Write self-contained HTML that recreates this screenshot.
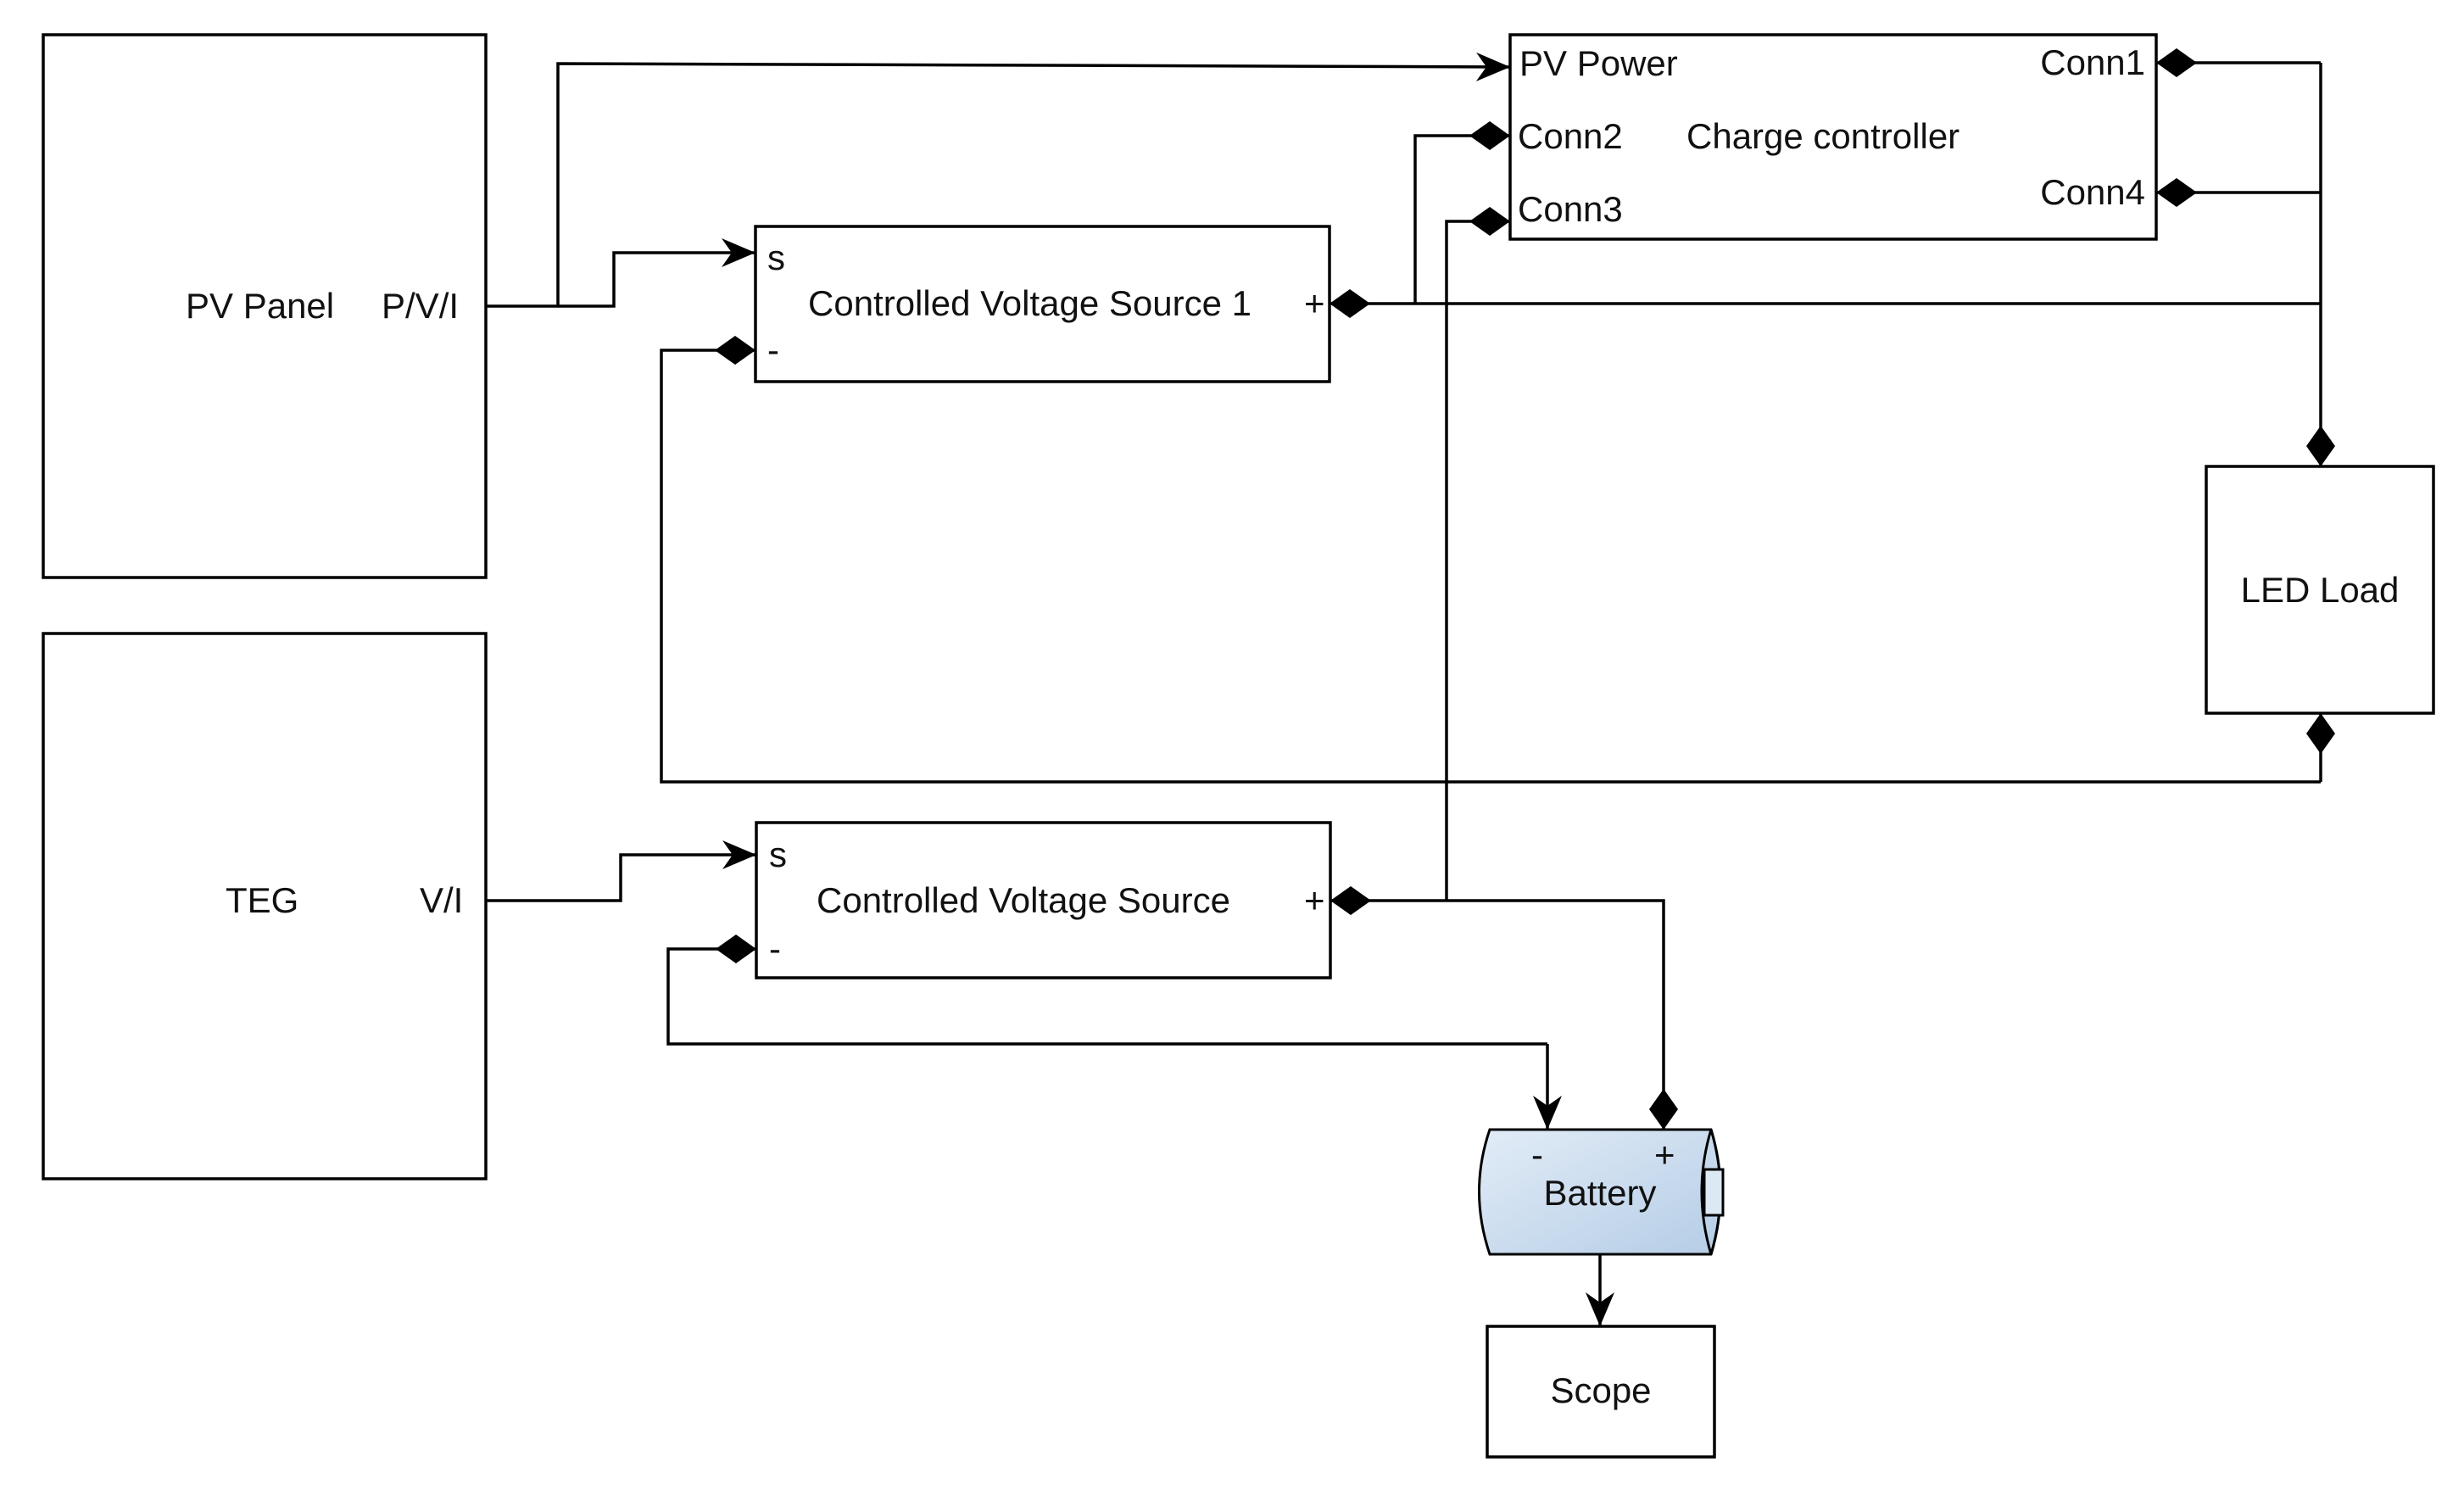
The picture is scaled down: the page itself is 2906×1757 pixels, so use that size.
<!DOCTYPE html>
<html><head><meta charset="utf-8"><style>
html,body{margin:0;padding:0;background:#fff;}
svg{display:block;}
text{font-family:"Liberation Sans",Arial,sans-serif;font-size:42px;fill:#111;}
</style></head><body>
<svg width="2906" height="1757" viewBox="0 0 2906 1757" xmlns="http://www.w3.org/2000/svg">
<defs>
<marker id="dm" viewBox="0 0 48 34" refX="48" refY="17" markerWidth="48" markerHeight="34" markerUnits="userSpaceOnUse" orient="auto">
<path d="M0 17 L24 0 L48 17 L24 34 Z" fill="#000"/></marker>
<marker id="ar" viewBox="0 0 40 34" refX="40" refY="17" markerWidth="40" markerHeight="34" markerUnits="userSpaceOnUse" orient="auto">
<path d="M0 0 L40 17 L0 34 L12 17 Z" fill="#000"/></marker>
<linearGradient id="bg" x1="0" y1="0" x2="1" y2="1">
<stop offset="0" stop-color="#e2ecf7"/><stop offset="1" stop-color="#b5cde6"/></linearGradient>
</defs>
<g fill="none" stroke="#000" stroke-width="3.5">
<rect x="51" y="41" width="522" height="640" fill="#fff"/>
<rect x="51" y="747" width="522" height="643" fill="#fff"/>
<rect x="891" y="267" width="677" height="183"/>
<rect x="892" y="970" width="677" height="183"/>
<rect x="1781" y="41" width="762" height="241"/>
<rect x="2602" y="550" width="268" height="291"/>
<rect x="1754" y="1564" width="268" height="154"/>
<path d="M573 361 H658 V75 L1781 79" marker-end="url(#ar)"/>
<path d="M658 361 H724 V298 H891" marker-end="url(#ar)"/>
<path d="M2737 922 H780 V413 H891" marker-end="url(#dm)"/>
<path d="M2737 922 V841" marker-end="url(#dm)"/>
<path d="M2737 358 H1568" marker-end="url(#dm)"/>
<path d="M1669 358 V160 H1781" marker-end="url(#dm)"/>
<path d="M2737 74 H2543" marker-end="url(#dm)"/>
<path d="M2737 227 H2543" marker-end="url(#dm)"/>
<path d="M2737 74 V550" marker-end="url(#dm)"/>
<path d="M573 1062 H732 V1008 H892" marker-end="url(#ar)"/>
<path d="M1706 1062 H1569" marker-end="url(#dm)"/>
<path d="M1706 1062 V261 H1781" marker-end="url(#dm)"/>
<path d="M1706 1062 H1962 V1332" marker-end="url(#dm)"/>
<path d="M1825 1231 H788 V1119 H892" marker-end="url(#dm)"/>
<path d="M1825 1231 V1332" marker-end="url(#ar)"/>
<path d="M1887 1479 V1564" marker-end="url(#ar)"/>
</g>
<g stroke="#000" stroke-width="3">
<path d="M1757 1332 H2018 Q2040 1405 2018 1479 H1757 Q1732 1405 1757 1332 Z" fill="url(#bg)"/>
<path d="M2018 1332 Q1996 1405 2018 1479" fill="none"/>
<path d="M2018 1332 Q2040 1405 2018 1479" fill="none"/>
<rect x="2010" y="1379" width="22" height="54" fill="#dce8f4"/>
</g>
<text x="1887" y="1421" text-anchor="middle">Battery</text>
<text x="1806" y="1376" font-size="34">-</text>
<text x="1951" y="1376" font-size="34">+</text>
<text x="219" y="375">PV Panel</text>
<text x="450" y="375">P/V/I</text>
<text x="266" y="1076">TEG</text>
<text x="495" y="1076">V/I</text>
<text x="905" y="318" font-size="36">s</text>
<text x="905" y="427" font-size="36">-</text>
<text x="953" y="372">Controlled Voltage Source 1</text>
<text x="1538" y="372" font-size="34">+</text>
<text x="907" y="1022" font-size="36">s</text>
<text x="907" y="1133" font-size="36">-</text>
<text x="963" y="1076">Controlled Voltage Source</text>
<text x="1538" y="1076" font-size="34">+</text>
<text x="1792" y="89">PV Power</text>
<text x="1790" y="175">Conn2</text>
<text x="1790" y="261">Conn3</text>
<text x="1989" y="175">Charge controller</text>
<text x="2530" y="88" text-anchor="end">Conn1</text>
<text x="2530" y="241" text-anchor="end">Conn4</text>
<text x="2736" y="710" text-anchor="middle">LED Load</text>
<text x="1888" y="1654" text-anchor="middle">Scope</text>
</svg>
</body></html>
